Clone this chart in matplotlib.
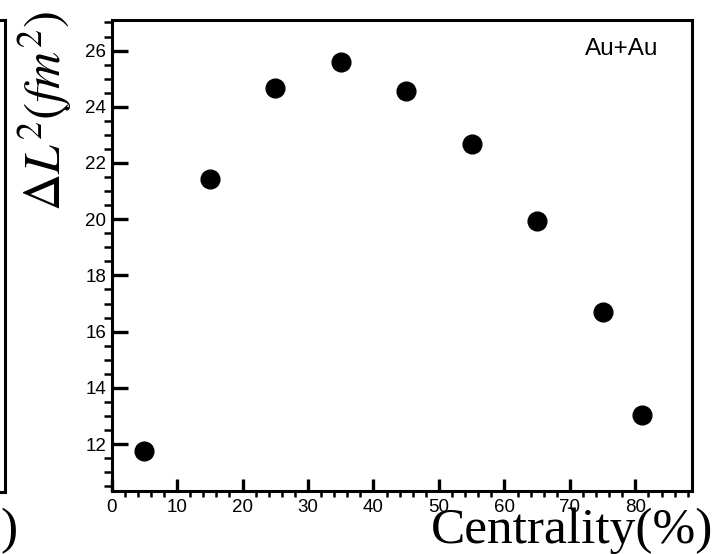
import matplotlib
matplotlib.use("Agg")
import matplotlib.pyplot as plt
from matplotlib.ticker import MultipleLocator

plt.rcParams["mathtext.fontset"] = "stix"

# centrality bins (%) and Delta L^2 (fm^2)
centrality = [5, 15, 25, 35, 45, 55, 65, 75, 81]
delta_l2 = [11.76, 21.44, 24.67, 25.58, 24.55, 22.67, 19.95, 16.69, 13.05]
x_ticks = [0, 10, 20, 30, 40, 50, 60, 70, 80]
y_ticks = [12, 14, 16, 18, 20, 22, 24, 26]

fig = plt.figure(figsize=(7.2, 5.54), dpi=100)
ax = fig.add_axes([0.155, 0.1143, 0.8057, 0.8487])

ax.plot(centrality, delta_l2, "o", color="black", markersize=13.5)

ax.set_xlim(0, 88.6)
ax.set_ylim(10.34, 27.07)
ax.set_xticks(x_ticks)
ax.set_yticks(y_ticks)
ax.xaxis.set_minor_locator(MultipleLocator(2))
ax.yaxis.set_minor_locator(MultipleLocator(0.5))

for s in ax.spines.values():
    s.set_linewidth(2.2)
ax.tick_params(direction="in", labelsize=13.5, labelfontfamily="Liberation Sans")
ax.tick_params(axis="y", which="major", length=11.5, width=2.4, pad=4)
ax.tick_params(axis="y", which="minor", length=5.8, width=1.8)
ax.tick_params(axis="x", which="major", length=8.6, width=2.4, pad=6)
ax.tick_params(axis="x", which="minor", length=4.3, width=1.8)

ax.text(0.88, 0.94, "Au+Au", transform=ax.transAxes, ha="center", va="center",
        fontsize=17.5, family="Liberation Sans")

# axis titles, placed like the original canvas
fig.text(0.0625, 0.80, r"$\Delta L^2(fm^2)$", rotation=90, ha="center", va="center",
         fontsize=37)
fig.text(0.99, 0.02, "Centrality(%)", ha="right", va="baseline",
         fontsize=37, family="Liberation Serif")

# edge of the neighbouring panel, cut off at the left
edge = fig.add_axes([-0.5, 0.112, 0.5 + 5 / 720, 0.8517])
edge.set_xticks([])
edge.set_yticks([])
for s in edge.spines.values():
    s.set_linewidth(2.2)
fig.text(0.0, 0.02, ")", ha="left", va="baseline", fontsize=37, family="Liberation Serif")

fig.savefig("out.png", dpi=100)
